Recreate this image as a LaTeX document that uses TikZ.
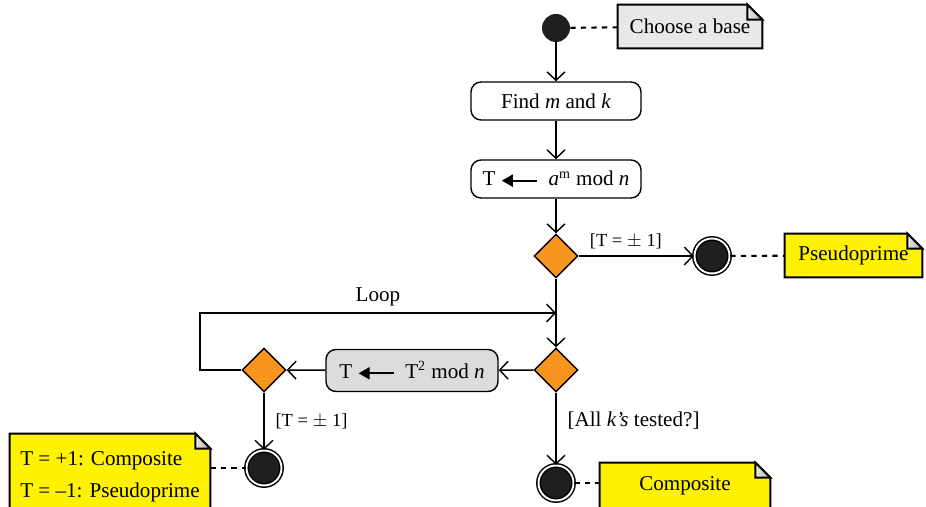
\documentclass[tikz,border=0pt]{standalone}
\usepackage{amsmath}
\usepackage{fontspec}
\setmainfont{Liberation Serif}
\usetikzlibrary{shapes.geometric,arrows.meta,positioning,backgrounds}
\definecolor{decorange}{RGB}{247,148,30}
\definecolor{noteyellow}{RGB}{255,242,0}
\definecolor{notegray}{RGB}{232,232,232}
\definecolor{stepgray}{RGB}{220,220,222}
\newcommand{\getsarrow}{\tikz[baseline=-0.55ex]\draw[line width=1.3pt, {Triangle[length=2.2mm,width=2.4mm]}-] (0,0) -- (0.7,0);}

\begin{document}
\begin{tikzpicture}[
        font=\fontsize{12}{14}\selectfont,
        initial/.style={circle, fill=black!88, minimum size=5.6mm, inner sep=0pt},
        final/.style={circle, draw, line width=0.85pt, double=white, double distance=1.1pt, fill=black!88, minimum size=7mm, inner sep=0pt},
        action/.style={rectangle, rounded corners=2mm, draw, line width=0.8pt, fill=white, minimum width=3.4cm, minimum height=7.6mm},
        decision/.style={diamond, draw, line width=0.8pt, fill=decorange, minimum size=8.8mm, inner sep=0pt},
        note/.style={rectangle, minimum height=8.6mm, inner sep=0pt},
        notebody/.style={draw, line width=1.1pt, line join=miter},
        flow/.style={draw, line width=0.8pt, -{Straight Barb[length=1.7mm,width=3.6mm]}},
        link/.style={draw, line width=1.2pt, dash pattern=on 3pt off 3pt},
        guard/.style={font=\fontsize{10.5}{12}\selectfont}
    ]
    \useasboundingbox (0,0) rectangle (18.52,10.14);

    % main column
    \node[initial] (start) at (11.12,9.58) {};
    \node[action] (findmk) at (11.12,8.12) {Find \textit{m} and \textit{k}};
    \node[action] (assign) at (11.12,6.56) {T\ \getsarrow\ \ \textit{a}\textsuperscript{m} mod \textit{n}};
    \node[decision] (dec1) at (11.12,5.02) {};
    \coordinate (merge) at (11.12,3.88);
    \node[decision] (dec2) at (11.12,2.74) {};
    \node[final] (end2) at (11.12,0.48) {};

    % squaring branch
    \node[action, fill=stepgray, minimum width=3.44cm, minimum height=8.4mm] (square) at (8.24,2.73) {T\ \getsarrow\ \ T\textsuperscript{2} mod \textit{n}};
    \node[decision] (dec3) at (5.28,2.74) {};
    \node[final] (end3) at (5.28,0.78) {};
    \coordinate (loopcorner) at (4.0,3.88);

    \node[final] (end1) at (14.24,5.02) {};

    % notes
    \node[note, minimum width=2.88cm] (choose) at (13.8,9.61) {Choose a base};
    \node[note, minimum width=2.74cm] (pseudo) at (17.07,5.03) {Pseudoprime};
    \node[note, minimum width=3.4cm, minimum height=9.2mm] (comp) at (13.7,0.42) {Composite};
    \node[note, minimum width=4.0cm, minimum height=1.7cm, align=left] (verdict) at (2.2,0.61) {T = +1: Composite\\[4pt]T = --1: Pseudoprime};

    \begin{scope}[on background layer]
        \foreach \n/\c in {choose/notegray, pseudo/noteyellow, comp/noteyellow, verdict/noteyellow} {
            \filldraw[notebody, fill=\c] (\n.south west) -- (\n.north west) -- ([xshift=-3mm]\n.north east) -- ([yshift=-3mm]\n.north east) -- (\n.south east) -- cycle;
            \filldraw[notebody, left color=gray!15, right color=gray!65] ([xshift=-3mm]\n.north east) |- ([yshift=-3mm]\n.north east) -- cycle;
        }
    \end{scope}

    % flows
    \draw[flow] (start) -- (findmk);
    \draw[flow] (findmk) -- (assign);
    \draw[flow] (assign) -- (dec1);
    \draw[flow] (dec1) -- node[guard, above, pos=0.41] {[T = $\pm$ 1]} (end1);
    \draw[flow] (dec1) -- (dec2);
    \draw[flow] (dec2) -- (square);
    \draw[flow] (square) -- (dec3);
    \draw[flow] (dec3.west) -| (loopcorner) -- node[above, pos=0.5] {Loop} (merge);
    \draw[flow] (dec3) -- node[guard, right=1mm] {[T = $\pm$ 1]} (end3);
    \draw[flow] (dec2) -- node[right=1mm, pos=0.39] {[All \textit{k's} tested?]} (end2);

    % note links
    \draw[link] (start) -- (choose);
    \draw[link] (end1) -- (pseudo);
    \draw[link] (verdict.east |- end3) -- (end3);
    \draw[link] (end2) -- (end2 -| comp.west);
\end{tikzpicture}
\end{document}
